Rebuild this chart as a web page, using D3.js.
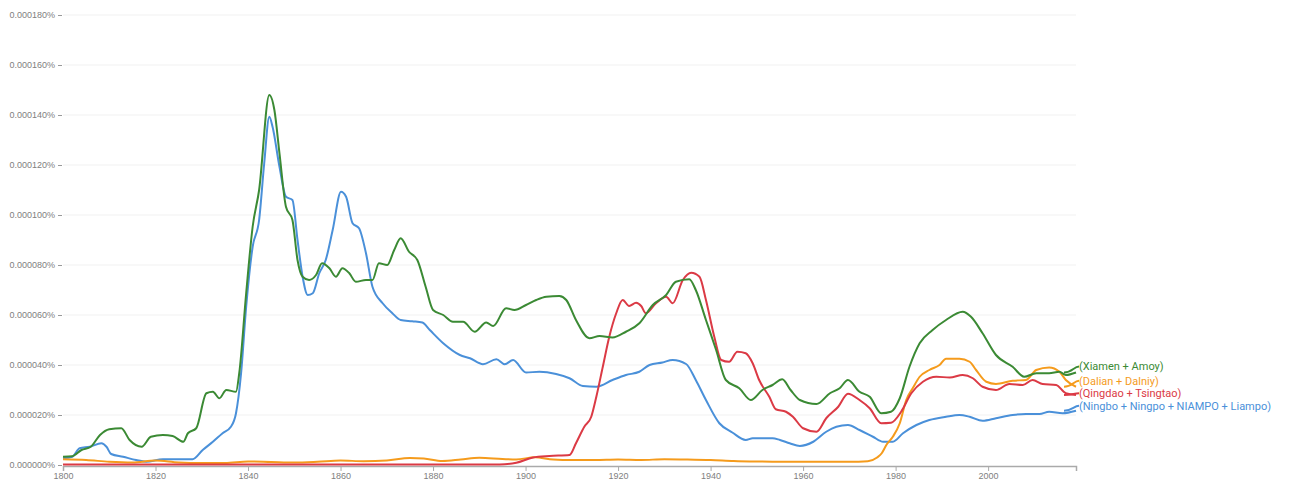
<!DOCTYPE html>
<html lang="en">
<head>
    <meta charset="UTF-8">
    <title>Ngram - Chinese port cities</title>
    <script src="https://d3js.org/d3.v7.min.js"></script>
    <style>
        * {
            margin: 0;
            padding: 0;
            box-sizing: border-box;
        }

        body {
            background: #fff;
            overflow: hidden;
            font-family: Roboto, 'DejaVu Sans', sans-serif;
        }

        .tick text {
            font-size: 9px;
            fill: #808080;
        }

        .series {
            fill: none;
            stroke-width: 2px;
            stroke-linejoin: round;
        }

        .label {
            font-size: 11px;
        }
    </style>
</head>
<body>
    <div id="chart"></div>

    <script>
        // values are in millionths of a percent (20 -> 0.000020%)
        const xiamen = [
            [1800, 3.3], [1802, 3.5], [1804, 6], [1806, 7.3], [1808, 12], [1810, 14.3], [1812.6, 14.7],
            [1814.4, 10], [1817, 7.3], [1819, 11.3], [1821.6, 12], [1823.7, 11.6], [1826, 9.3], [1827, 12.7],
            [1828.8, 14.7], [1831, 28.7], [1832.4, 29.3], [1833.8, 26.7], [1835.3, 30], [1837.4, 29.3],
            [1838.1, 36.7], [1839.6, 68.7], [1841, 95.3], [1842.4, 110], [1844.6, 148], [1845.7, 142],
            [1846.8, 124.7], [1848.2, 103.3], [1849.6, 98], [1850.7, 82], [1851.8, 75.3], [1853.2, 74],
            [1854.7, 76], [1856, 80.7], [1857.6, 78.7], [1859, 75.3], [1860.4, 78.7], [1861.9, 76.7],
            [1863.3, 73.3], [1865.5, 74], [1866.9, 74], [1868.3, 80.7], [1870.1, 80], [1871.6, 86],
            [1873, 90.7], [1874.8, 85.3], [1876.6, 82], [1878.4, 71.3], [1880, 62], [1882.2, 60],
            [1884.3, 57.3], [1886.5, 57.3], [1889, 53.3], [1891.5, 57], [1893, 55.6], [1895.8, 62.7],
            [1897.6, 62], [1900.1, 64], [1902.3, 66], [1904.5, 67.3], [1907.3, 67.6], [1908.8, 66],
            [1910.9, 58], [1913.8, 50.7], [1916, 51.6], [1918.8, 51], [1921.7, 53.3], [1924.6, 56.7],
            [1927.5, 64], [1930.4, 68], [1932.5, 73.3], [1935.4, 74.3], [1936.8, 70], [1939, 58],
            [1941.2, 46], [1943.3, 34], [1946.2, 30.7], [1948.7, 26], [1951.2, 30], [1953.4, 32],
            [1955.5, 34.3], [1957.3, 30], [1959.3, 26], [1962.9, 24.4], [1965.8, 28.7], [1967.9, 30.7],
            [1969.7, 34], [1972.2, 29.3], [1974.4, 27.3], [1976.9, 20.7], [1979, 21.3], [1980.9, 26.7],
            [1983, 39.3], [1985.2, 48.7], [1988, 54], [1990.9, 58], [1994.5, 61.3], [1996.3, 59.3],
            [1998.8, 52.7], [2001.7, 44], [2005.3, 39.3], [2007.8, 35.3], [2010.4, 36.7], [2013.2, 36.7],
            [2015.4, 37.3], [2016.8, 36], [2019, 37]
        ];

        const dalian = [
            [1800, 2.3], [1805, 2], [1810, 1.3], [1815, 1], [1820, 1.8], [1825, 1], [1830, 0.8],
            [1835, 0.8], [1840, 1.4], [1845, 1.2], [1850, 1], [1855, 1.3], [1860, 1.8], [1865, 1.5],
            [1870, 1.8], [1875, 2.8], [1878, 2.6], [1882, 1.6], [1886, 2.2], [1890, 2.9], [1895, 2.4],
            [1898, 2.2], [1902, 3.1], [1906, 2.2], [1910, 2], [1915, 2], [1920, 2.2], [1925, 2],
            [1930, 2.3], [1935, 2.2], [1940, 2], [1945, 1.6], [1950, 1.4], [1955, 1.3], [1960, 1.3],
            [1965, 1.3], [1970, 1.3], [1974, 1.5], [1976, 3], [1977, 4.7], [1978, 8], [1979.4, 11.3],
            [1980.9, 16.7], [1982.3, 26], [1983.7, 30.7], [1985.2, 35.3], [1987.3, 38], [1989.5, 40],
            [1990.9, 42.5], [1993.8, 42.5], [1996, 41.3], [1997.4, 38], [1999.6, 33.3], [2001.7, 32.4],
            [2005.3, 33.7], [2008.2, 34], [2010.4, 38], [2013.2, 39], [2015.4, 37.3], [2016.8, 34],
            [2019, 31.3]
        ];

        const qingdao = [
            [1800, 0.2], [1850, 0.2], [1894.4, 0.2], [1898, 0.9], [1901.6, 3], [1905.2, 3.6],
            [1909.5, 4], [1910.9, 8.7], [1912.7, 15.3], [1914.2, 19.3], [1915.3, 27.3], [1916.7, 39.3],
            [1918.1, 51.3], [1919.6, 60.7], [1921, 66], [1922.4, 63.6], [1923.9, 64.9], [1925, 63.6],
            [1926, 60.7], [1928.2, 64.7], [1930.4, 67.3], [1931.8, 64.7], [1934, 74], [1935.8, 76.9],
            [1937.6, 75.3], [1939, 66], [1940.8, 51.3], [1942.3, 42], [1944, 41.3], [1945.8, 45.3],
            [1947.6, 44.7], [1949.1, 40.7], [1950.5, 34], [1952.7, 27.3], [1954.1, 22.3], [1956.3, 21.3],
            [1957.8, 19.3], [1960, 14.7], [1962.9, 13.3], [1965, 18.7], [1967.6, 23.3], [1969.7, 28.5],
            [1972.2, 26], [1974.4, 22.7], [1976.9, 16.7], [1979, 16.9], [1981.2, 21.3], [1983.4, 28.7],
            [1985.9, 33.3], [1988.8, 35.3], [1991.7, 35], [1994.5, 36], [1996.7, 34.7], [1998.8, 31.3],
            [2001.7, 30], [2004.6, 32.4], [2007.5, 32], [2009.6, 34], [2011.8, 32.4], [2014.7, 32],
            [2016.8, 28.7], [2019, 28]
        ];

        const ningbo = [
            [1800, 2.7], [1802, 3.3], [1803.6, 6.7], [1805.8, 7.3], [1808.3, 8.7], [1809.4, 7.3],
            [1810.4, 4.4], [1813, 3.3], [1815.8, 2], [1818, 1.3], [1821.6, 2.3], [1825.2, 2.3],
            [1828, 2.3], [1830.2, 6], [1832.4, 9.3], [1834.5, 12.7], [1836.3, 15.3], [1837.4, 20.7],
            [1838.5, 36.7], [1839.6, 63.3], [1841, 87.3], [1842.4, 98], [1843.5, 120.7], [1844.6, 139.3],
            [1845.3, 135.3], [1846.8, 119.3], [1848.2, 107.3], [1849.6, 106], [1850.7, 90], [1851.8, 75.3],
            [1852.9, 68], [1854, 68.7], [1855.4, 76.7], [1856.8, 82], [1858.3, 94], [1860.1, 109.3],
            [1861.2, 107.3], [1862.6, 96.7], [1864, 94.7], [1865.5, 84.7], [1866.9, 71.3], [1869.1, 64.7],
            [1871.2, 60.7], [1873, 58], [1875.5, 57.5], [1877.7, 57], [1879.3, 54], [1882.2, 48.7],
            [1885.8, 44], [1888, 42.7], [1890.8, 40.3], [1893.7, 42.3], [1895.5, 40.3], [1897.3, 42],
            [1900.1, 37], [1903, 37.3], [1906.6, 36.4], [1909.5, 34.7], [1912.4, 31.6], [1915.3, 31.3],
            [1918.8, 34], [1921.7, 36], [1924.6, 37.3], [1926.8, 40], [1929.6, 41], [1931.8, 42],
            [1934.7, 40.4], [1936.8, 34], [1939, 26], [1941.9, 16.7], [1944.7, 13], [1947.6, 10],
            [1949.1, 10.7], [1953.4, 10.7], [1955, 10], [1957.1, 8.7], [1959.3, 7.6], [1962.2, 9.3],
            [1965, 13.3], [1967.2, 15.3], [1969.7, 16], [1972.2, 14], [1975.1, 11.3], [1977.3, 9.3],
            [1979.4, 9.3], [1981.6, 12.7], [1984.5, 16], [1987.3, 18], [1990.9, 19.3], [1993.8, 20],
            [1996, 19.3], [1998.8, 17.7], [2001.7, 18.7], [2005.3, 20], [2008.2, 20.4], [2011.1, 20.4],
            [2013.2, 21.3], [2016.1, 20.7], [2019, 21.7]
        ];

        const seriesNames = ['(Xiamen + Amoy)', '(Dalian + Dalniy)', '(Qingdao + Tsingtao)', '(Ningbo + Ningpo + NIAMPO + Liampo)'];
        const seriesColors = ['#3b8a34', '#f59b1c', '#db3a45', '#4a90d9'];
        const xTicks = [1800, 1820, 1840, 1860, 1880, 1900, 1920, 1940, 1960, 1980, 2000];
        const yTicks = [0, 20, 40, 60, 80, 100, 120, 140, 160, 180];

        const width = 1290;
        const height = 486;
        const margin = { top: 15, right: 214, bottom: 21, left: 63 };

        const svg = d3.select('#chart')
            .append('svg')
            .attr('width', width)
            .attr('height', height);

        const x = d3.scaleLinear()
            .domain([1800, 2019])
            .range([margin.left, width - margin.right]);

        const y = d3.scaleLinear()
            .domain([0, 180])
            .range([height - margin.bottom, margin.top]);

        // faint horizontal grid
        svg.append('g')
            .selectAll('line')
            .data(yTicks.slice(1))
            .join('line')
            .attr('x1', x(1800))
            .attr('x2', x(2019))
            .attr('y1', d => y(d))
            .attr('y2', d => y(d))
            .attr('stroke', '#f1f1f1')
            .attr('stroke-width', 1);

        // y axis: labels with a small dash, no domain line
        const yAxis = svg.append('g')
            .attr('transform', `translate(${margin.left - 1},0)`)
            .call(d3.axisLeft(y)
                .tickValues(yTicks)
                .tickSize(4)
                .tickPadding(3)
                .tickFormat(d => (d / 1e6).toFixed(6) + '%'));
        yAxis.select('.domain').remove();
        yAxis.selectAll('.tick line').attr('stroke', '#999');

        // x axis
        const xAxis = svg.append('g')
            .attr('transform', `translate(0,${y(0) + 1})`)
            .call(d3.axisBottom(x)
                .tickValues(xTicks)
                .tickSize(5)
                .tickPadding(2)
                .tickFormat(d3.format('d')));
        xAxis.select('.domain').attr('stroke', '#aaa').attr('stroke-width', 1.5);
        xAxis.selectAll('.tick line').attr('stroke', '#aaa');

        const line = d3.line()
            .x(d => x(d[0]))
            .y(d => y(d[1]))
            .curve(d3.curveMonotoneX);

        const allSeries = [xiamen, dalian, qingdao, ningbo];

        // draw back to front so green sits on top like the reference
        const order = [3, 1, 2, 0];
        order.forEach(i => {
            svg.append('path')
                .attr('class', 'series')
                .attr('d', line(allSeries[i]))
                .attr('stroke', seriesColors[i]);
        });

        // end labels, stacked so they do not overlap
        const ends = allSeries.map((s, i) => ({ i, yEnd: y(s[s.length - 1][1]) }))
            .sort((a, b) => a.yEnd - b.yEnd);
        let prev = -Infinity;
        ends.forEach(e => {
            e.yLabel = Math.max(e.yEnd - 6, prev + 12.5);
            prev = e.yLabel;
        });

        const xEnd = x(2019);
        ends.forEach(e => {
            const x0 = xEnd - 12;
            svg.append('path')
                .attr('class', 'series')
                .attr('stroke-width', 1.2)
                .attr('stroke', seriesColors[e.i])
                .attr('d', `M${x0},${e.yEnd} C${x0 + 8},${e.yEnd} ${xEnd - 2},${e.yLabel} ${xEnd + 3},${e.yLabel}`);

            svg.append('text')
                .attr('class', 'label')
                .attr('x', xEnd + 3)
                .attr('y', e.yLabel)
                .attr('dy', '0.35em')
                .attr('fill', seriesColors[e.i])
                .text(seriesNames[e.i]);
        });
    </script>
</body>
</html>
